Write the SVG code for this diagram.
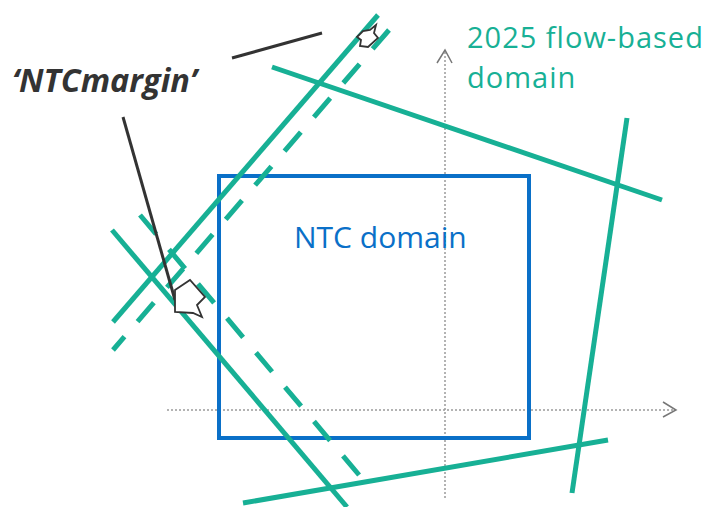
<svg xmlns="http://www.w3.org/2000/svg" width="711" height="507" viewBox="0 0 711 507">
<defs>
<style>
.fb{stroke:#17b095;stroke-width:5;fill:none;stroke-linecap:butt}
.dash{stroke-dasharray:25 20}
.axis{stroke:#9a9a9a;stroke-width:1.5;fill:none;stroke-dasharray:2 2}
.head{stroke:#777;stroke-width:1.5;fill:none}
.ann{stroke:#333;stroke-width:3;fill:none}
.marr{fill:#fff;stroke:#333;stroke-width:1.8;stroke-linejoin:miter}
.lbl-fb{font-family:"Open Sans","Noto Sans",sans-serif;font-size:29px;letter-spacing:1px;fill:#17b095}
.lbl-ntc{font-family:"Open Sans","Noto Sans",sans-serif;font-size:30px;fill:#0a70c8}
.lbl-m{font-family:"Open Sans","Noto Sans",sans-serif;font-size:32.5px;font-weight:bold;font-style:italic;fill:#333}
</style>
</defs>
<rect width="711" height="507" fill="#fff"/>
<g id="axes">
<line class="axis" x1="167" y1="410" x2="674" y2="410"/>
<polyline class="head" points="663,402 676,410 663,417"/>
<line class="axis" x1="445" y1="498" x2="445" y2="52"/>
<polyline class="head" points="437,63 445,50 452,63"/>
</g>
<g id="ntc-domain">
<rect x="219" y="176" width="310" height="262" fill="none" stroke="#0a70c8" stroke-width="4"/>
<text class="lbl-ntc" x="294" y="248">NTC domain</text>
</g>
<g id="connectors">
<line class="fb" x1="378" y1="15" x2="113" y2="322"/>
<line class="fb dash" x1="389" y1="30" x2="113" y2="350"/>
<line class="fb" x1="112" y1="230" x2="347" y2="507"/>
<line class="fb dash" x1="140" y1="215" x2="365" y2="482"/>
<line class="fb" x1="272" y1="67" x2="662" y2="200"/>
<line class="fb" x1="627" y1="118" x2="572" y2="493"/>
<line class="fb" x1="243" y1="503" x2="608" y2="440"/>
<line class="ann" x1="232" y1="58" x2="322" y2="33"/>
<line class="ann" x1="123" y1="117" x2="175" y2="300"/>
</g>
<g id="margin-arrows">
<polygon class="marr" points="357,37 363,31 370,30 376,25 374,33 378,38 368,47 360,46 361,40"/>
<polygon class="marr" points="175,290 190,280 205,297 197,305 202,317 193,313 175,312"/>
</g>
<g id="flow-based-label">
<text class="lbl-fb" x="467" y="48">2025 flow-based</text>
<text class="lbl-fb" x="467" y="88">domain</text>
</g>
<g id="ntcmargin-label">
<text class="lbl-m" x="12" y="92">‘NTCmargin’</text>
</g>
</svg>
